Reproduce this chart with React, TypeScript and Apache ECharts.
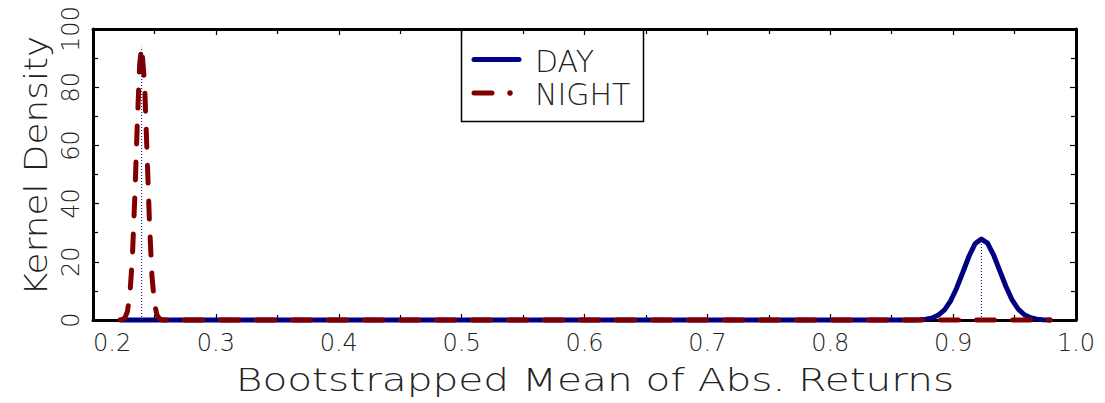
import { useEffect, useRef } from "react";
import * as echarts from "echarts";

// Kernel density of bootstrapped mean absolute returns, day vs. night sessions
const dayX = [
  0.2235, 0.868, 0.873, 0.878, 0.883, 0.888, 0.893, 0.898, 0.903, 0.908, 0.913,
  0.918, 0.923, 0.928, 0.933, 0.938, 0.943, 0.948, 0.953, 0.958, 0.963, 0.968,
  0.973, 0.979,
];
const dayY = [
  0, 0, 0.1, 0.3, 0.7, 1.7, 3.5, 6.6, 11.1, 16.5, 22.0, 26.3, 27.8, 26.4, 22.3,
  16.9, 11.5, 6.9, 3.7, 1.8, 0.8, 0.3, 0.1, 0,
];

const nightX = [
  0.222, 0.224, 0.226, 0.228, 0.23, 0.232, 0.234, 0.236, 0.238, 0.2396, 0.242,
  0.244, 0.246, 0.248, 0.25, 0.252, 0.254, 0.256, 0.258, 0.979,
];
const nightY = [
  0, 0.2, 0.8, 2.9, 8.7, 21, 42, 67, 88, 93.9, 81, 57, 33, 15, 5.8, 1.8, 0.5,
  0.1, 0, 0,
];

// Bootstrap means marked with dotted drop lines
const dayMean = 0.923;
const dayPeak = 27.8;
const nightMean = 0.2396;
const nightPeak = 93.9;

const xTickLabels = ["0.2", "0.3", "0.4", "0.5", "0.6", "0.7", "0.8", "0.9", "1.0"];
const yTickLabels = ["0", "20", "40", "60", "80", "100"];

const NAVY = "#000080";
const MAROON = "#800000";
const INK = "#222";
const FONT = '"DejaVu Sans", sans-serif';

const zip = (xs: number[], ys: number[]) => xs.map((x, i) => [x, ys[i]]);

export default function App() {
  const ref = useRef<HTMLDivElement>(null);

  useEffect(() => {
    if (!ref.current) return;
    const chart = echarts.init(ref.current, undefined, { renderer: "svg" });

    const frameAxis = {
      axisLine: { show: true, onZero: false, lineStyle: { color: "#000", width: 3 } },
      axisTick: { show: true, inside: true, length: 6, lineStyle: { color: "#000", width: 1.2 } },
      minorTick: { show: true, splitNumber: 2, length: 5, lineStyle: { color: "#000", width: 1.2 } },
      splitLine: { show: false },
    };

    chart.setOption({
      animation: false,
      backgroundColor: "#fff",
      grid: { left: 93, right: 29, top: 29, bottom: 83 },
      xAxis: [
        {
          type: "value",
          min: 0.2,
          max: 1.0,
          interval: 0.1,
          position: "bottom",
          ...frameAxis,
          axisLabel: {
            show: true,
            margin: 11,
            fontSize: 24,
            fontFamily: FONT,
            fontWeight: 200,
            color: INK,
            alignMinLabel: "left",
            formatter: (v: number) => xTickLabels[Math.round((v - 0.2) * 10)] ?? "",
          },
        },
        {
          type: "value",
          min: 0.2,
          max: 1.0,
          interval: 0.1,
          position: "top",
          ...frameAxis,
          axisLabel: { show: false },
        },
      ],
      yAxis: [
        {
          type: "value",
          min: 0,
          max: 100,
          interval: 20,
          position: "left",
          ...frameAxis,
          axisLabel: {
            show: true,
            rotate: 90,
            margin: 10,
            fontSize: 24,
            fontFamily: FONT,
            fontWeight: 200,
            color: INK,
            formatter: (v: number) => yTickLabels[Math.round(v / 20)] ?? "",
          },
        },
        {
          type: "value",
          min: 0,
          max: 100,
          interval: 20,
          position: "right",
          ...frameAxis,
          axisLabel: { show: false },
        },
      ],
      series: [
        {
          name: "DAY",
          type: "line",
          data: zip(dayX, dayY),
          symbol: "none",
          clip: false,
          lineStyle: { color: NAVY, width: 5, cap: "round", join: "round" },
          z: 3,
        },
        {
          name: "NIGHT",
          type: "line",
          data: zip(nightX, nightY),
          symbol: "none",
          clip: false,
          lineStyle: { color: MAROON, width: 5, type: [18, 18], cap: "round", join: "round" },
          z: 4,
        },
        {
          name: "day mean",
          type: "line",
          data: [
            [dayMean, 0],
            [dayMean, dayPeak],
          ],
          symbol: "none",
          lineStyle: { color: NAVY, width: 1, type: [1, 2] },
          z: 5,
        },
        {
          name: "night mean",
          type: "line",
          data: [
            [nightMean, 0],
            [nightMean, nightPeak],
          ],
          symbol: "none",
          lineStyle: { color: NAVY, width: 1, type: [1, 2] },
          z: 5,
        },
      ],
      graphic: [
        {
          type: "text",
          x: 595,
          y: 380,
          scaleX: 1.27,
          style: {
            text: "Bootstrapped Mean of Abs. Returns",
            font: `200 32px ${FONT}`,
            fill: INK,
            align: "center",
            verticalAlign: "middle",
          },
        },
        {
          type: "text",
          x: 36,
          y: 166,
          rotation: Math.PI / 2,
          scaleX: 1.12,
          style: {
            text: "Kernel Density",
            font: `200 32px ${FONT}`,
            fill: INK,
            align: "center",
            verticalAlign: "middle",
          },
        },
        {
          type: "group",
          z: 10,
          children: [
            {
              type: "rect",
              shape: { x: 461.5, y: 29, width: 182, height: 92.5 },
              style: { fill: "#fff", stroke: "#000", lineWidth: 1.5 },
            },
            {
              type: "line",
              shape: { x1: 474, y1: 59.5, x2: 519, y2: 59.5 },
              style: { stroke: NAVY, lineWidth: 5, lineCap: "round" },
            },
            {
              type: "text",
              x: 535,
              y: 61,
              style: {
                text: "DAY",
                font: `200 30px ${FONT}`,
                fill: INK,
                align: "left",
                verticalAlign: "middle",
              },
            },
            {
              type: "line",
              shape: { x1: 474, y1: 93, x2: 492, y2: 93 },
              style: { stroke: MAROON, lineWidth: 5, lineCap: "round" },
            },
            {
              type: "circle",
              shape: { cx: 510, cy: 93, r: 2.8 },
              style: { fill: MAROON },
            },
            {
              type: "text",
              x: 535,
              y: 94,
              style: {
                text: "NIGHT",
                font: `200 30px ${FONT}`,
                fill: INK,
                align: "left",
                verticalAlign: "middle",
              },
            },
          ],
        },
      ],
    });

    return () => chart.dispose();
  }, []);

  return (
    <div
      ref={ref}
      style={{ position: "fixed", left: 0, top: 0, width: 1105, height: 403, background: "#fff" }}
    />
  );
}
